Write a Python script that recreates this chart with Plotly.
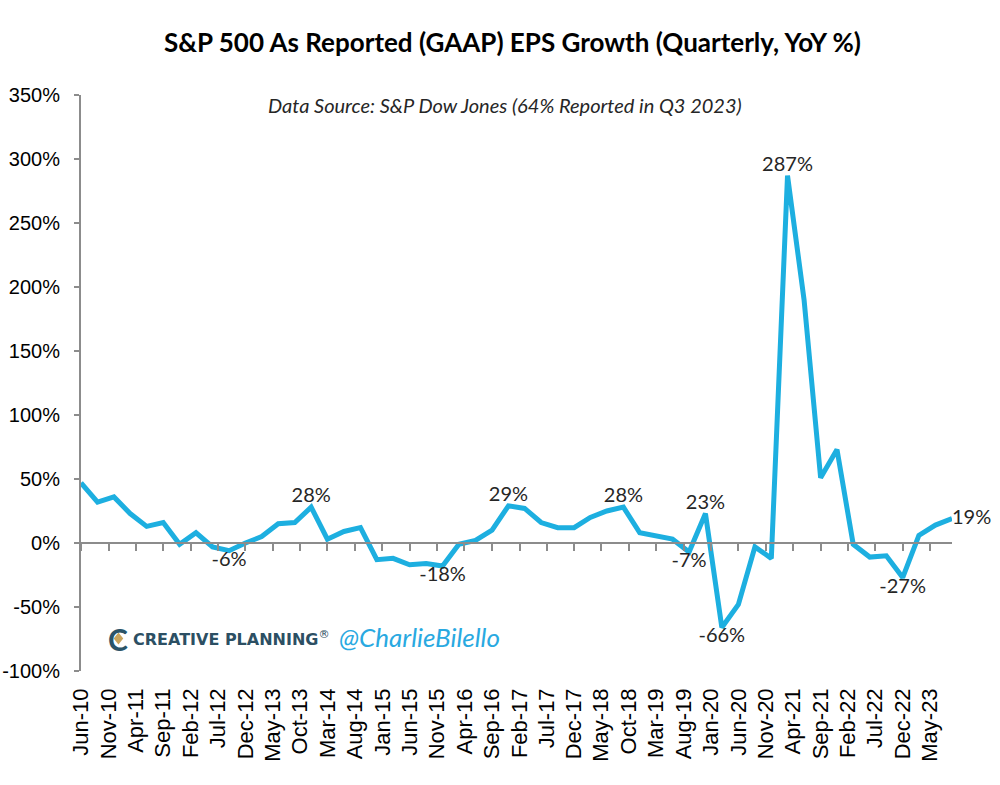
import plotly.graph_objects as go
import pandas as pd

quarters = pd.date_range("2010-06-01", "2023-09-01", freq="3MS").strftime("%Y-%m-%d").tolist()
eps_growth = [47, 32, 36, 23, 13, 16, -1, 8, -3, -6,
              0, 5, 15, 16, 28, 3, 9, 12, -13, -12,
              -17, -16, -18, -1, 2, 10, 29, 27, 16, 12,
              12, 20, 25, 28, 8, 6, 3, -7, 23, -66,
              -48, -3, -12, 287, 190, 51, 73, -1, -11, -10,
              -27, 6, 14, 19]
label_idx = [9, 14, 22, 26, 33, 37, 38, 39, 43, 50, 53]
label_text = ["-6%", "28%", "-18%", "29%", "28%", "-7%", "23%", "-66%", "287%", "-27%", "19%"]
label_pos = ["bottom center", "top center", "bottom center", "top center", "top center",
             "bottom center", "top center", "bottom center", "top center", "bottom center",
             "middle right"]

x_tickvals = pd.date_range("2010-06-01", "2023-05-01", freq="5MS").strftime("%Y-%m-%d").tolist()
x_ticktext = pd.to_datetime(x_tickvals).strftime("%b-%y").tolist()
y_tickvals = [-100, -50, 0, 50, 100, 150, 200, 250, 300, 350]
y_ticktext = [f"{v}%" for v in y_tickvals]

LINE = "#1DAFE0"
AXIS = "#8C8C8C"

fig = go.Figure()
fig.add_trace(go.Scatter(
    x=quarters, y=eps_growth, mode="lines",
    line=dict(color=LINE, width=5),
    hoverinfo="skip", showlegend=False))
fig.add_trace(go.Scatter(
    x=[quarters[i] for i in label_idx], y=[eps_growth[i] for i in label_idx],
    mode="text", text=label_text, textposition=label_pos,
    textfont=dict(family="Lato", size=20, color="#262626"),
    hoverinfo="skip", showlegend=False, cliponaxis=False))
# invisible trace to carry the zero-line axis with tick marks
fig.add_trace(go.Scatter(x=quarters, y=eps_growth, mode="lines", xaxis="x2",
                         line=dict(width=0), opacity=0, hoverinfo="skip", showlegend=False))

ymin, ymax = -100, 350
fig.update_layout(
    width=1000, height=785, autosize=False,
    paper_bgcolor="white", plot_bgcolor="white",
    margin=dict(l=81, r=48, t=95, b=114),
    xaxis=dict(range=[quarters[0], quarters[-1]], tickvals=x_tickvals, ticktext=x_ticktext,
               tickangle=-90, showline=False, showgrid=False, zeroline=False,
               ticks="", ticklabelstandoff=12, automargin=False,
               tickfont=dict(family="Liberation Sans, Arial", size=22, color="#000000")),
    xaxis2=dict(overlaying="x", matches="x", anchor="free",
                position=(0 - ymin) / (ymax - ymin),
                tickvals=x_tickvals, showticklabels=False, automargin=False,
                ticks="outside", ticklen=7, tickcolor=AXIS, tickwidth=1.5,
                showline=True, linecolor=AXIS, linewidth=2, showgrid=False, zeroline=False),
    yaxis=dict(range=[ymin, ymax], tickvals=y_tickvals, ticktext=y_ticktext,
               showline=True, linecolor=AXIS, linewidth=2, ticks="outside", ticklen=5,
               tickcolor=AXIS, tickwidth=1.5, showgrid=False, zeroline=False,
               ticklabelstandoff=10, automargin=False,
               tickfont=dict(family="Liberation Sans, Arial", size=20, color="#000000")),
    shapes=[dict(type="path", xref="paper", yref="paper",
                 path="M 0.0375 0.0566 L 0.0430 0.0670 L 0.0485 0.0566 L 0.0430 0.0462 Z",
                 fillcolor="#C9A45C", line=dict(width=0), layer="above")],
    annotations=[
        dict(text="<b>S&P 500 As Reported (GAAP) EPS Growth (Quarterly, YoY %)</b>",
             xref="paper", yref="paper", x=0.495, y=1.0, yshift=53, showarrow=False,
             xanchor="center", yanchor="middle",
             font=dict(family="Lato", size=26, color="#000000")),
        dict(text="<i>Data Source: S&P Dow Jones (64% Reported in Q3 2023)</i>",
             xref="paper", yref="paper", x=0.487, y=1.0, yshift=-10, showarrow=False,
             xanchor="center", yanchor="middle",
             font=dict(family="Lato", size=20, color="#262626")),
        dict(text="<b>C</b>", xref="paper", yref="paper", x=0.0, xshift=25, y=0.0, yshift=32,
             showarrow=False, xanchor="left", yanchor="middle",
             font=dict(family="Lato", size=30, color="#2B5468")),
        dict(text="<b>CREATIVE PLANNING</b><sup>®</sup>", xref="paper", yref="paper",
             x=0.0, xshift=50, y=0.0, yshift=33, showarrow=False, xanchor="left",
             yanchor="middle", font=dict(family="DejaVu Sans", size=16, color="#2C4F63")),
        dict(text="<i>@CharlieBilello</i>", xref="paper", yref="paper",
             x=0.0, xshift=256, y=0.0, yshift=34, showarrow=False, xanchor="left",
             yanchor="middle", font=dict(family="Lato", size=26, color="#29A9E1")),
    ],
)

fig.write_html("out.html")
